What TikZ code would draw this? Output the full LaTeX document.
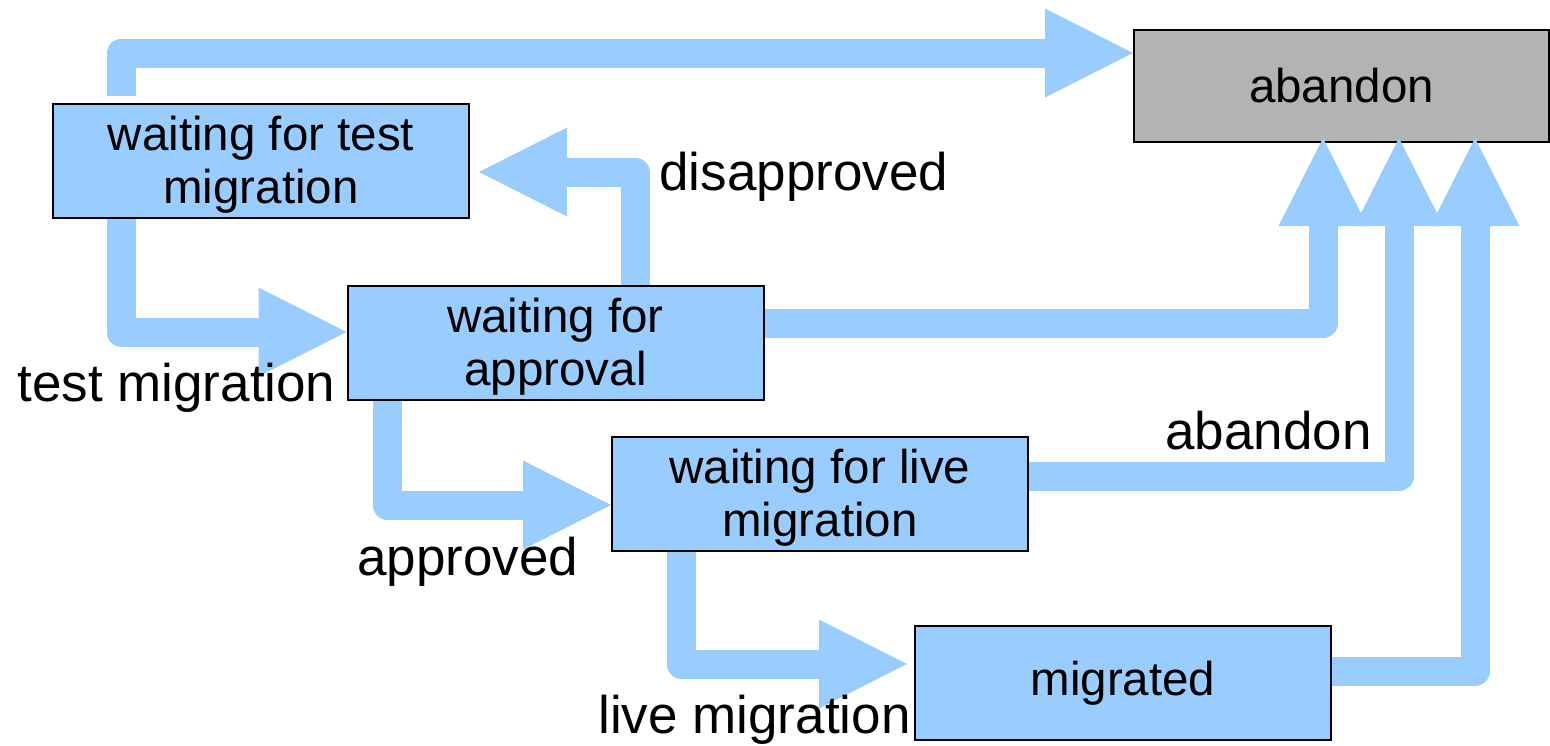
\documentclass[tikz,border=0pt]{standalone}
\usepackage{fontspec}
\setmainfont{Liberation Sans}
\usetikzlibrary{arrows.meta}
\definecolor{flowblue}{HTML}{99CCFF}
\definecolor{boxgray}{HTML}{B3B3B3}
\begin{document}
\begin{tikzpicture}[x=0.5pt,y=-0.5pt,
  state/.style={draw=black,line width=1pt,fill=flowblue,minimum width=208pt,minimum height=57pt,inner sep=0pt,align=center,font=\fontsize{23.75pt}{26.5pt}\selectfont},
  twoline/.style={text height=47.8pt},
  lbl/.style={anchor=base west,inner sep=0pt,font=\fontsize{26.5pt}{30pt}\selectfont},
  flow/.style={draw=flowblue,line width=14.5pt,line join=round,-{Triangle[width=44.5pt,length=44pt,line width=0pt]}}]
\useasboundingbox (0,0) rectangle (1550,745);
% states
\node[state,twoline] (t) at (261,161) {waiting for test\\migration};
\node[state,twoline] (ap) at (555.5,343) {waiting for\\approval};
\node[state,twoline] (lv) at (820,494) {waiting for live\\migration};
\node[state] (mg) at (1123,683) {migrated};
\node[state,fill=boxgray,minimum width=207.5pt,minimum height=56pt] (ab) at (1341.5,86) {abandon};
% connectors
\draw[flow,shorten <=3.5pt] ([xshift=-70pt]t.north) |- ([yshift=16.5pt]ab.west);
\draw[flow] ([xshift=-70pt]t.south) |- ([yshift=5.5pt]ap.west);
\draw[flow,shorten >=4.5pt] ([xshift=39.75pt]ap.north) |- ([yshift=-5.5pt]t.east);
\draw[flow,shorten >=-2.5pt] ([yshift=10pt]ap.east) -| ([xshift=-9.25pt]ab.south);
\draw[flow,shorten >=-2.5pt] ([yshift=9pt]lv.east) -| ([xshift=28.75pt]ab.south);
\draw[flow,shorten >=-2.5pt] ([yshift=6pt]mg.east) -| ([xshift=66.75pt]ab.south);
\draw[flow] ([xshift=-84.25pt]ap.south) |- ([yshift=-5.5pt]lv.west);
\draw[flow,shorten >=3.5pt] ([xshift=-69.5pt]lv.south) |- ([yshift=9.5pt]mg.west);
% labels
\node[lbl] (l1) at (17,401) {test migration};
\node[lbl] (l2) at (659,190) {disapproved};
\node[lbl] (l3) at (1165,449) {abandon};
\node[lbl] (l4) at (357,575) {approved};
\node[lbl] (l5) at (598,733) {live migration};
\end{tikzpicture}
\end{document}
